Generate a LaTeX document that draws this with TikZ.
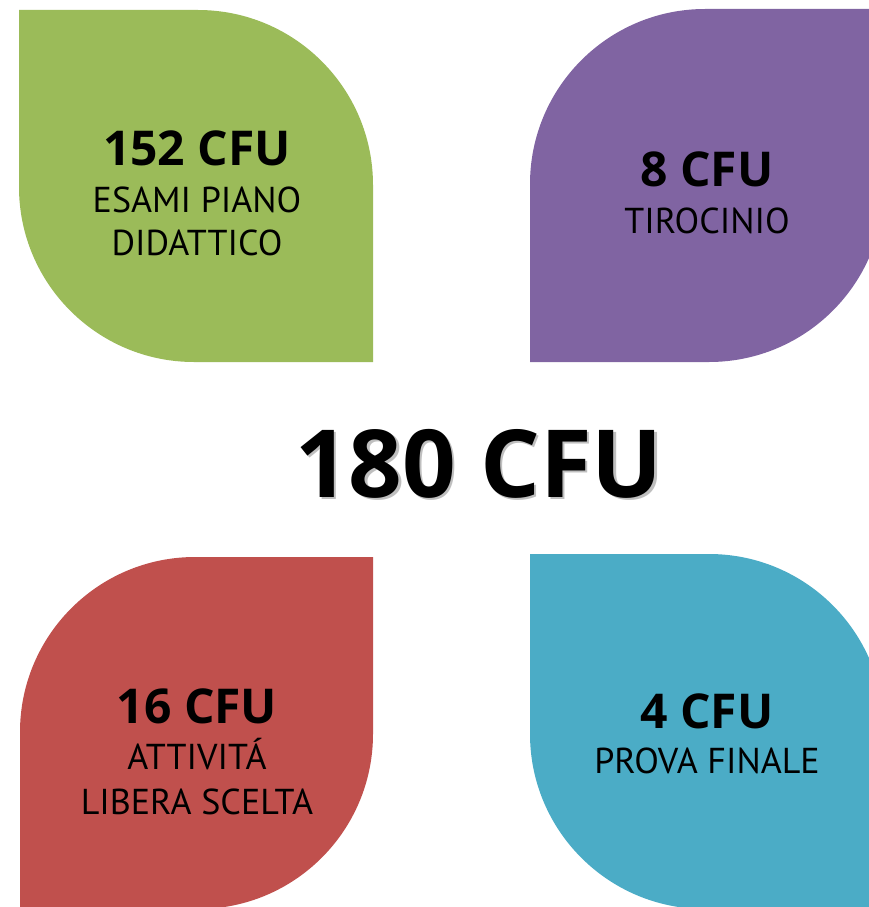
\documentclass[tikz,border=0pt]{standalone}
\usepackage{fontspec}
\newfontfamily\headfont{Open Sans}
\newfontfamily\subfont{PT Sans}
\definecolor{leafgreen}{HTML}{9BBB59}
\definecolor{leafpurple}{HTML}{8064A2}
\definecolor{leafred}{HTML}{C0504D}
\definecolor{leafblue}{HTML}{4BACC6}
\definecolor{shadowgray}{HTML}{BFBFBF}
\tikzset{
  head/.style={anchor=base, inner sep=0pt, font=\headfont\bfseries\fontsize{48}{48}\selectfont},
  sub/.style={anchor=base, inner sep=0pt, font=\subfont\fontsize{36}{36}\selectfont},
  big/.style={anchor=base, inner sep=0pt, font=\headfont\bfseries\fontsize{94}{94}\selectfont},
}
\newcommand{\shadowed}[1]{\makebox[0pt][l]{\hspace{2.5pt}\raisebox{-2pt}{\textcolor{shadowgray}{#1}}}#1}
\begin{document}
\begin{tikzpicture}[x=1pt,y=-1pt]
\useasboundingbox (0,0) rectangle (869,907);
\begin{scope}
\clip (0,0) rectangle (869,907);
% green leaf
\fill[leafgreen] (19,10) -- (198,10) .. controls (294.6,10) and (373,88.4) .. (373,185)
  -- (373,362) -- (194,362) .. controls (97.4,362) and (19,283.6) .. (19,187) -- cycle;
% purple leaf
\fill[leafpurple] (884,9) -- (705,9) .. controls (608.4,9) and (530,87.4) .. (530,184)
  -- (530,362) -- (709,362) .. controls (805.6,362) and (884,283.6) .. (884,187) -- cycle;
% red leaf
\fill[leafred] (373,557) -- (195,557) .. controls (98.4,557) and (20,635.4) .. (20,732)
  -- (20,909) -- (198,909) .. controls (294.6,909) and (373,830.6) .. (373,734) -- cycle;
% blue leaf
\fill[leafblue] (530,554) -- (709,554) .. controls (805.6,554) and (884,632.4) .. (884,729)
  -- (884,909) -- (705,909) .. controls (608.4,909) and (530,830.6) .. (530,734) -- cycle;
\end{scope}
% texts
\node[head] (g1) at (197,165) {152 CFU};
\node[sub] (g2) at (197,212) {ESAMI PIANO};
\node[sub] (g3) at (197,255) {DIDATTICO};
\node[head] (p1) at (707,186) {8 CFU};
\node[sub] (p2) at (707,233) {TIROCINIO};
\node[head] (r1) at (197,723) {16 CFU};
\node[sub] (r2) at (197,769) {ATTIVITÁ};
\node[sub] (r3) at (197,814) {LIBERA SCELTA};
\node[head] (b1) at (707,728) {4 CFU};
\node[sub] (b2) at (707,773) {PROVA FINALE};
\node[big] (t) at (479,497) {\shadowed{180 CFU}};
\end{tikzpicture}
\end{document}
